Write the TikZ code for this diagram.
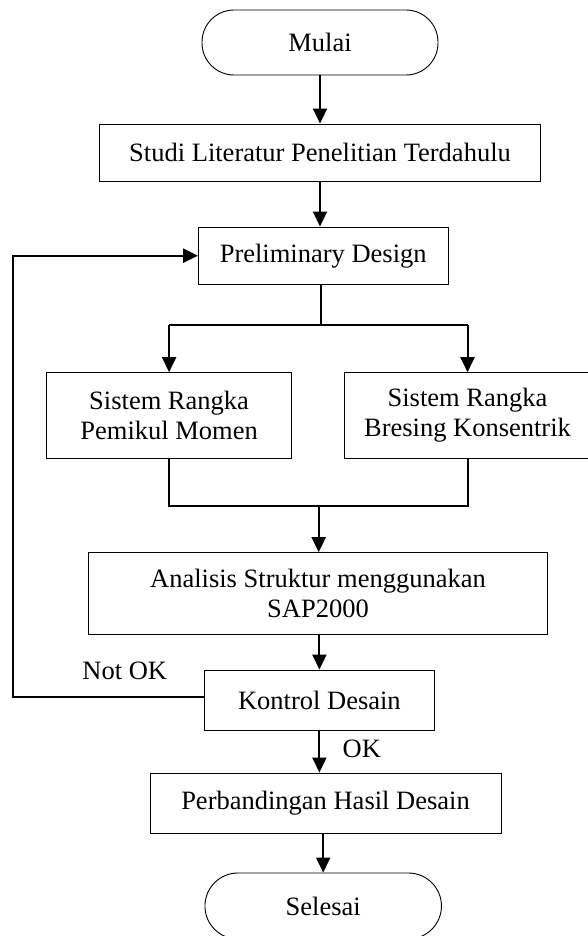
\documentclass[tikz,border=0pt]{standalone}
\usepackage{fontspec}
\setmainfont{Liberation Serif}
\usetikzlibrary{arrows.meta,calc}
\begin{document}
\begin{tikzpicture}[x=1pt,y=-1pt,
  box/.style={draw=black,line width=0.9pt,rectangle,inner sep=0pt,align=center,
    font=\fontsize{26.5}{30}\selectfont},
  term/.style={box,rounded corners=32pt},
  conn/.style={line width=2pt},
  arr/.style={conn,-{Triangle[length=15pt,width=14pt]}},
  lbl/.style={inner sep=0pt,font=\fontsize{26.5}{30}\selectfont}]
\useasboundingbox (0,0) rectangle (588,936);
\clip (0,0) rectangle (588,936);
\node[term,minimum width=236pt,minimum height=65pt] (mulai) at (320,42.5) {Mulai};
\node[box,minimum width=440.6pt,minimum height=57pt] (studi) at (320,152.5) {Studi Literatur Penelitian Terdahulu};
\node[box,minimum width=249.5pt,minimum height=57.5pt] (prelim) at (323.2,255.7) {Preliminary Design};
\node[box,minimum width=245.2pt,minimum height=85.3pt] (srpm) at (169.1,415.3) {Sistem Rangka\\Pemikul Momen};
\node[box,minimum width=247pt,minimum height=85.3pt] (srbk) at (467.5,415.3) {Sistem Rangka\\Bresing Konsentrik};
\node[box,minimum width=459pt,minimum height=81.3pt] (sap) at (318,593.3) {Analisis Struktur menggunakan\\SAP2000};
\node[box,minimum width=229.3pt,minimum height=60pt] (kontrol) at (319.4,700) {Kontrol Desain};
\node[box,minimum width=351pt,minimum height=60pt] (banding) at (325.5,803) {Perbandingan Hasil Desain};
\node[term,minimum width=236.5pt,minimum height=66pt,rounded corners=33pt] (selesai) at (323.2,906) {Selesai};
\node[lbl] (notok) at (124.8,671) {Not OK};
\node[lbl] (ok) at (361.8,749) {OK};
% straight arrows
\draw[arr] (mulai.south) -- (mulai.south |- studi.north);
\draw[arr] (studi.south) -- (studi.south |- prelim.north);
% branch
\coordinate (br) at ($(prelim.south)+(-2,40)$);
\draw[conn] (prelim.south -| br) -- (br);
\draw[conn] (br -| srpm.north) -- (br -| srbk.north);
\draw[arr] (br -| srpm.north) -- (srpm.north);
\draw[arr] (br -| srbk.north) -- (srbk.north);
% merge
\coordinate (mg) at (318.7,506);
\draw[conn] (srpm.south) -- (srpm.south |- mg) -- (srbk.south |- mg) -- (srbk.south);
\draw[arr] (mg) -- (mg |- sap.north);
\draw[arr] (sap.south -| kontrol.north) -- (kontrol.north);
\draw[arr] (kontrol.south) -- (kontrol.south |- banding.north);
\draw[arr] (banding.south -| selesai.north) -- (selesai.north);
% loop back
\coordinate (lp) at (13,0);
\draw[arr,line width=2.4pt] ($(kontrol.west)+(0,-3)$) -- ($(kontrol.west -| lp)+(0,-3)$) -- (lp |- prelim.west) -- (prelim.west);
\end{tikzpicture}
\end{document}
